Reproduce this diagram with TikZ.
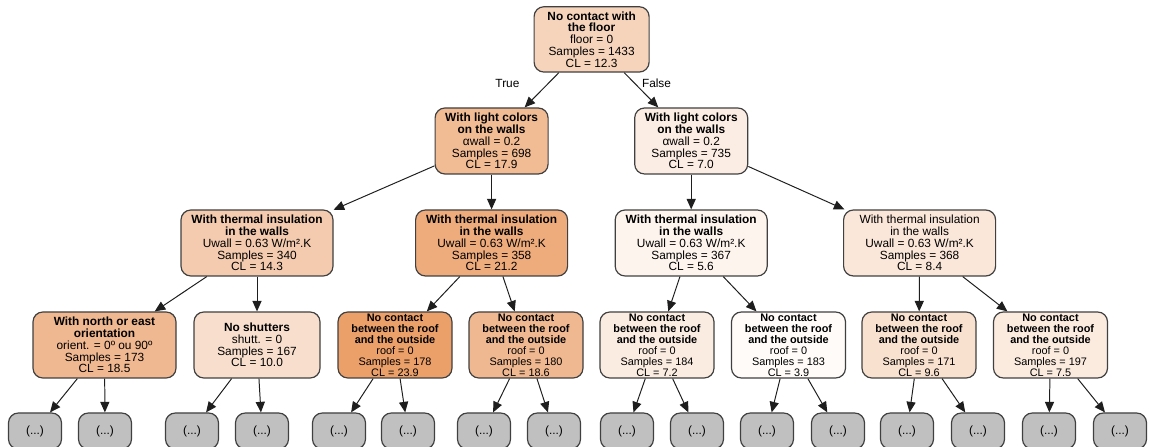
\documentclass[tikz,border=0pt]{standalone}
\usepackage{fontspec}
\setmainfont{Liberation Sans}
\usepackage{xcolor}
\definecolor{dtorange}{RGB}{229,129,57}
\definecolor{dtgray}{RGB}{192,192,192}
\definecolor{dtborder}{RGB}{64,64,64}
\definecolor{dtedge}{RGB}{30,30,30}
\usepackage{tikz}
\usetikzlibrary{arrows.meta, positioning}

\begin{document}
\begin{tikzpicture}[
  split/.style={draw=dtborder, line width=0.85pt, rounded corners=7pt, align=center,
    minimum height=1.65cm, font=\fontsize{8.44}{8.4}\selectfont},
  roofsplit/.style={split, minimum width=2.85cm, inner ysep=0pt, font=\fontsize{7.75}{7.8}\selectfont},
  pruned/.style={draw=dtborder, fill=dtgray, line width=0.85pt, rounded corners=7pt,
    minimum width=1.325cm, minimum height=0.9cm, font=\fontsize{8.44}{8.4}\selectfont},
  branch/.style={-{Triangle[length=7.5pt,width=6.5pt]}, line width=0.7pt, dtedge},
  branchlabel/.style={font=\fontsize{8.44}{8.4}\selectfont, text=black},
]
  \useasboundingbox (0,0) rectangle (28.725,11.175);

  % Root split
  \node[split, fill=dtorange!34!white, minimum width=2.875cm, minimum height=1.625cm] (root) at (14.79,10.19)
    {\textbf{No contact with}\\\textbf{the floor}\\floor = 0\\Samples = 1433\\CL = 12.3};

  % --- Level 1: light colours ---
  \node[split, fill=dtorange!54!white, minimum width=2.825cm] (lightT) at (12.29,7.65)
    {\textbf{With light colors}\\\textbf{on the walls}\\αwall = 0.2\\Samples = 698\\CL = 17.9};
  \node[split, fill=dtorange!14!white, minimum width=2.825cm] (lightF) at (17.28,7.65)
    {\textbf{With light colors}\\\textbf{on the walls}\\αwall = 0.2\\Samples = 735\\CL = 7.0};
  \draw[branch] (root) -- node[branchlabel, pos=0.3, left=0.6cm] {True} (lightT);
  \draw[branch] (root) -- node[branchlabel, pos=0.3, right=0.06cm] {False} (lightF);

  % --- Level 2: thermal insulation ---
  \node[split, fill=dtorange!41!white, minimum width=3.8cm] (insA) at (6.425,5.1)
    {\textbf{With thermal insulation}\\\textbf{in the walls}\\Uwall = 0.63 W/m².K\\Samples = 340\\CL = 14.3};
  \node[split, fill=dtorange!66!white, minimum width=3.8cm] (insB) at (12.29,5.1)
    {\textbf{With thermal insulation}\\\textbf{in the walls}\\Uwall = 0.63 W/m².K\\Samples = 358\\CL = 21.2};
  \node[split, fill=dtorange!9!white, minimum width=3.8cm] (insC) at (17.28,5.1)
    {\textbf{With thermal insulation}\\\textbf{in the walls}\\Uwall = 0.63 W/m².K\\Samples = 367\\CL = 5.6};
  \node[split, fill=dtorange!19!white, minimum width=3.8cm] (insD) at (22.99,5.1)
    {With thermal insulation\\in the walls\\Uwall = 0.63 W/m².K\\Samples = 368\\CL = 8.4};
  \draw[branch] (lightT) -- (insA);
  \draw[branch] (lightT) -- (insB);
  \draw[branch] (lightF) -- (insC);
  \draw[branch] (lightF) -- (insD);

  % --- Level 3 ---
  \node[split, fill=dtorange!56!white, minimum width=3.575cm] (orient) at (2.6125,2.55)
    {\textbf{With north or east}\\\textbf{orientation}\\orient. = 0º ou 90º\\Samples = 173\\CL = 18.5};
  \node[split, fill=dtorange!25!white, minimum width=3.15cm] (shutt) at (6.425,2.55)
    {\textbf{No shutters}\\shutt. = 0\\Samples = 167\\CL = 10.0};
  \node[roofsplit, fill=dtorange!76!white] (roofA) at (9.875,2.55)
    {\textbf{No contact}\\\textbf{between the roof}\\\textbf{and the outside}\\roof = 0\\Samples = 178\\CL = 23.9};
  \node[roofsplit, fill=dtorange!56!white] (roofB) at (13.15,2.55)
    {\textbf{No contact}\\\textbf{between the roof}\\\textbf{and the outside}\\roof = 0\\Samples = 180\\CL = 18.6};
  \node[roofsplit, fill=dtorange!15!white] (roofC) at (16.425,2.55)
    {\textbf{No contact}\\\textbf{between the roof}\\\textbf{and the outside}\\roof = 0\\Samples = 184\\CL = 7.2};
  \node[roofsplit, fill=dtorange!3!white] (roofD) at (19.7125,2.55)
    {\textbf{No contact}\\\textbf{between the roof}\\\textbf{and the outside}\\roof = 0\\Samples = 183\\CL = 3.9};
  \node[roofsplit, fill=dtorange!24!white] (roofE) at (22.975,2.55)
    {\textbf{No contact}\\\textbf{between the roof}\\\textbf{and the outside}\\roof = 0\\Samples = 171\\CL = 9.6};
  \node[roofsplit, fill=dtorange!16!white] (roofF) at (26.2625,2.55)
    {\textbf{No contact}\\\textbf{between the roof}\\\textbf{and the outside}\\roof = 0\\Samples = 197\\CL = 7.5};
  \draw[branch] (insA) -- (orient);
  \draw[branch] (insA) -- (shutt);
  \draw[branch] (insB) -- (roofA);
  \draw[branch] (insB) -- (roofB);
  \draw[branch] (insC) -- (roofC);
  \draw[branch] (insC) -- (roofD);
  \draw[branch] (insD) -- (roofE);
  \draw[branch] (insD) -- (roofF);

  % --- Level 4: pruned subtrees ---
  \node[pruned] (p1) at (0.875,0.4) {(...)};
  \node[pruned] (p2) at (2.625,0.4) {(...)};
  \node[pruned] (p3) at (4.8,0.4) {(...)};
  \node[pruned] (p4) at (6.55,0.4) {(...)};
  \node[pruned] (p5) at (8.475,0.4) {(...)};
  \node[pruned] (p6) at (10.2,0.4) {(...)};
  \node[pruned] (p7) at (12.1,0.4) {(...)};
  \node[pruned] (p8) at (13.85,0.4) {(...)};
  \node[pruned] (p9) at (15.675,0.4) {(...)};
  \node[pruned] (p10) at (17.425,0.4) {(...)};
  \node[pruned] (p11) at (19.175,0.4) {(...)};
  \node[pruned] (p12) at (20.95,0.4) {(...)};
  \node[pruned] (p13) at (22.675,0.4) {(...)};
  \node[pruned] (p14) at (24.45,0.4) {(...)};
  \node[pruned] (p15) at (26.225,0.4) {(...)};
  \node[pruned] (p16) at (28.0,0.4) {(...)};
  \draw[branch] (orient) -- (p1);
  \draw[branch] (orient) -- (p2);
  \draw[branch] (shutt) -- (p3);
  \draw[branch] (shutt) -- (p4);
  \draw[branch] (roofA) -- (p5);
  \draw[branch] (roofA) -- (p6);
  \draw[branch] (roofB) -- (p7);
  \draw[branch] (roofB) -- (p8);
  \draw[branch] (roofC) -- (p9);
  \draw[branch] (roofC) -- (p10);
  \draw[branch] (roofD) -- (p11);
  \draw[branch] (roofD) -- (p12);
  \draw[branch] (roofE) -- (p13);
  \draw[branch] (roofE) -- (p14);
  \draw[branch] (roofF) -- (p15);
  \draw[branch] (roofF) -- (p16);
\end{tikzpicture}
\end{document}
